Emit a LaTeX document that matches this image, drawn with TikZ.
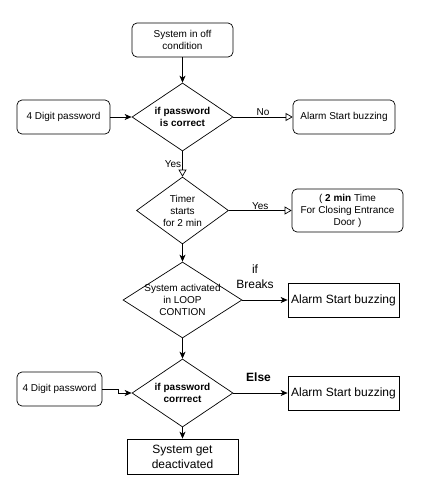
\documentclass[tikz,border=0pt]{standalone}
\usepackage{fontspec}
\setmainfont{Liberation Sans}
\usetikzlibrary{shapes.geometric,arrows.meta}
\begin{document}
\begin{tikzpicture}[x=1pt,y=-1pt,
  every node/.style={font=\fontsize{10}{12}\selectfont, align=center},
  rbox/.style={draw, rounded corners=5pt, inner sep=0pt},
  sbox/.style={draw, inner sep=0pt, font=\fontsize{12}{15}\selectfont},
  dia/.style={draw, diamond, inner sep=0pt},
  big/.style={font=\fontsize{12}{15}\selectfont},
  fill arr/.style={draw, -{Stealth[length=7pt,width=6pt,inset=2pt]}},
  open arr/.style={draw, -{Triangle[open,length=7pt,width=8pt]}},
  lbl/.style={inner sep=1pt},
  line width=0.7pt]
\useasboundingbox (0,0) rectangle (437,487);

\node[rbox, minimum width=101pt, minimum height=34pt] (off) at (182.5,40) {System in off\\condition};
\node[dia, minimum width=101pt, minimum height=68pt, label={[font=\fontsize{10}{12.5}\selectfont\bfseries, align=center]center:if password\\is correct}] (d1) at (182.5,117) {};
\node[rbox, minimum width=93pt, minimum height=34pt] (pw1) at (63.5,117) {4 Digit password};
\node[rbox, minimum width=102pt, minimum height=34pt] (al1) at (344,117) {Alarm Start buzzing};

\node[dia, minimum width=92pt, minimum height=67pt, label={[align=center]center:Timer\\starts\\for 2 min}] (d2) at (182.5,210.5) {};
\node[rbox, minimum width=111pt, minimum height=43pt] (door) at (347.5,210.5) {( \textbf{2 min} Time\\For Closing Entrance\\Door )};

\node[dia, minimum width=119pt, minimum height=76pt, label={[align=center]center:System activated\\in LOOP\\CONTION}] (d3) at (182.5,300) {};
\node[sbox, minimum width=111pt, minimum height=34pt] (al3) at (343.5,300) {Alarm Start buzzing};

\node[dia, minimum width=101pt, minimum height=68pt, label={[font=\fontsize{10}{12.5}\selectfont\bfseries, align=center]center:if password\\corrrect}] (d4) at (182.5,393) {};
\node[rbox, minimum width=85pt, minimum height=34pt] (pw2) at (59.5,389) {4 Digit password};
\node[sbox, minimum width=111pt, minimum height=34pt] (al4) at (343.5,393) {Alarm Start buzzing};
\node[sbox, minimum width=111pt, minimum height=35pt] (deact) at (182.5,456.5) {System get\\deactivated};

\draw[fill arr] (off) -- (d1);
\draw[fill arr] (pw1) -- (d1);
\draw[open arr] (d1) -- node[lbl, above, pos=0.5] {No} (al1);
\draw[open arr] (d1) -- node[lbl, left, pos=0.5] {Yes} (d2);
\draw[open arr] (d2) -- node[lbl, above] {Yes} (door);
\draw[fill arr] (d2) -- (d3);
\draw[fill arr] (d3) -- node[lbl, above, big, yshift=10pt, xshift=-10pt] {if\\Breaks} (al3);
\draw[fill arr] (d3) -- (d4);
\coordinate (j1) at (118,389);
\coordinate (j2) at (118,393);
\draw[fill arr] (pw2.east) -- (j1) -- (j2) -- (d4.west);
\draw[fill arr] (d4) -- node[lbl, above, font=\fontsize{12}{15}\selectfont\bfseries, yshift=10pt, xshift=-2pt] {Else} (al4);
\draw[fill arr] (d4) -- (deact);
\end{tikzpicture}
\end{document}
